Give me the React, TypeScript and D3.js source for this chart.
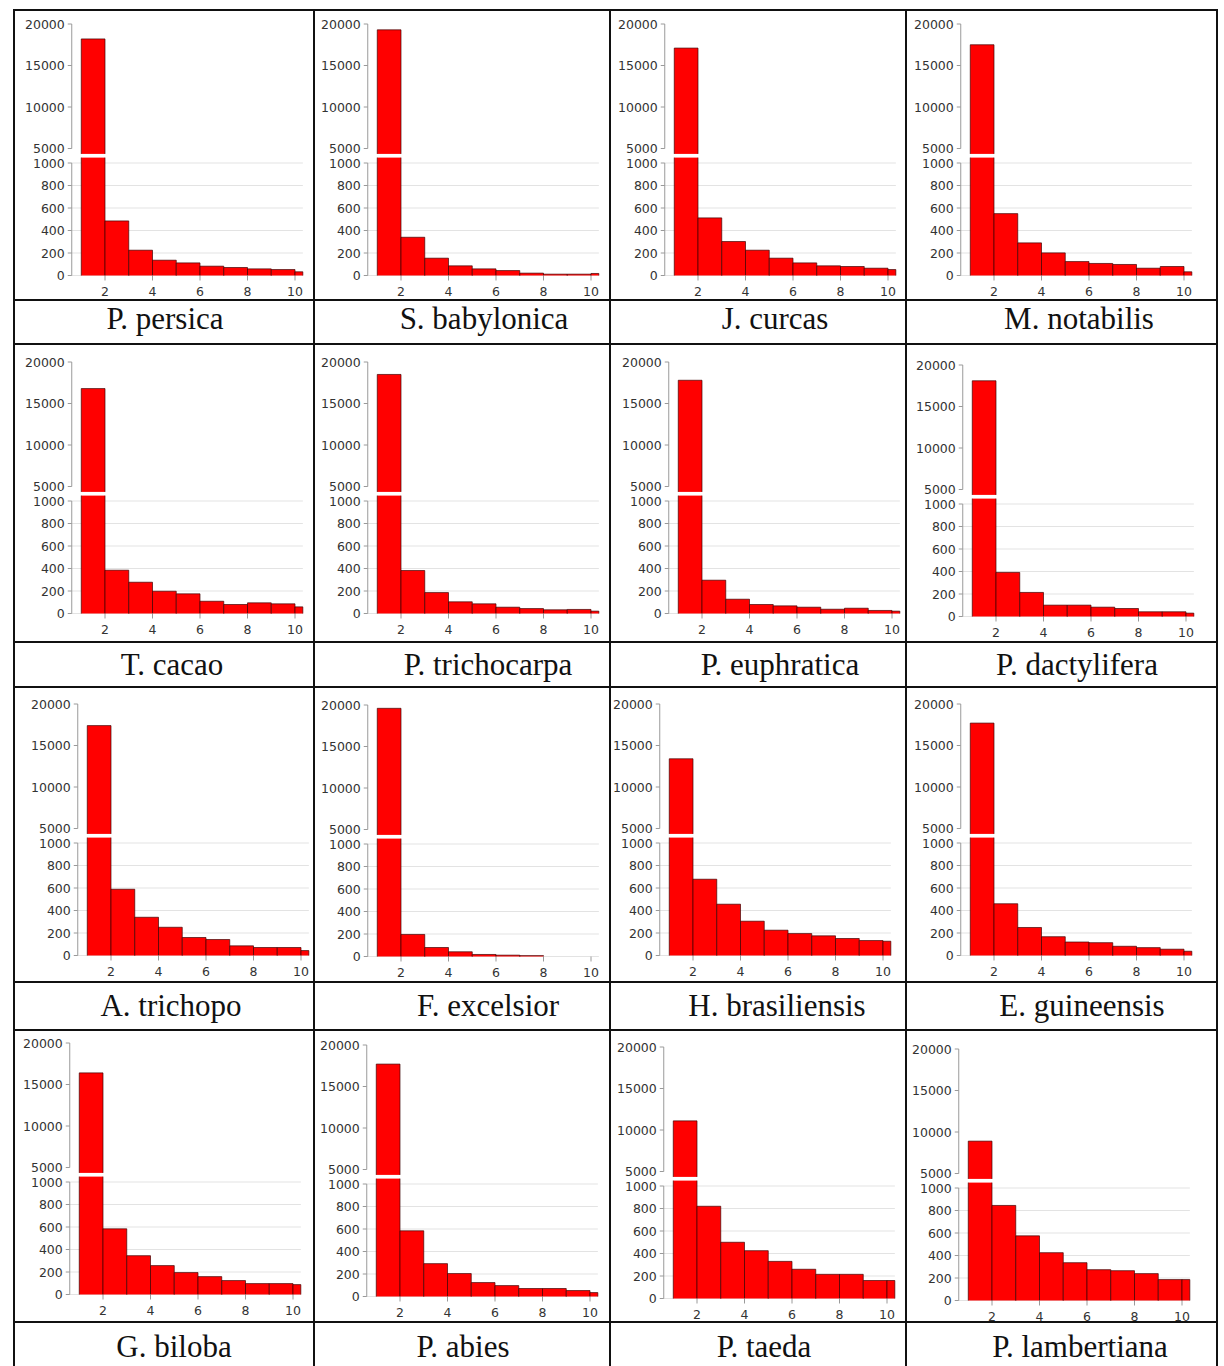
import React from "react";
import * as d3 from "d3";

// Species shown in the 4 x 4 table, row by row
const speciesNames = [
  "P. persica", "S. babylonica", "J. curcas", "M. notabilis",
  "T. cacao", "P. trichocarpa", "P. euphratica", "P. dactylifera",
  "A. trichopo", "F. excelsior", "H. brasiliensis", "E. guineensis",
  "G. biloba", "P. abies", "P. taeda", "P. lambertiana",
];

// Counts per unit bin: [1,2), [2,3), ... [10,11)
const persica = [18200, 485, 225, 136, 112, 83, 71, 59, 53, 33];
const babylonica = [19300, 340, 154, 86, 59, 44, 21, 12, 12, 18];
const curcas = [17100, 512, 302, 225, 154, 112, 86, 80, 65, 53];
const notabilis = [17500, 550, 290, 201, 124, 107, 98, 65, 80, 33];
const cacao = [16800, 385, 278, 198, 175, 109, 80, 95, 86, 59];
const trichocarpa = [18500, 382, 186, 104, 86, 56, 44, 33, 36, 21];
const euphratica = [17800, 296, 127, 80, 68, 56, 38, 47, 27, 21];
const dactylifera = [18100, 392, 214, 101, 101, 83, 71, 42, 42, 30];
const trichopo = [17400, 589, 340, 251, 160, 142, 86, 71, 71, 44];
const excelsior = [19600, 196, 80, 42, 18, 12, 8, 0, 0, 0];
const brasiliensis = [13400, 678, 456, 305, 225, 195, 175, 151, 133, 127];
const guineensis = [17700, 460, 249, 167, 120, 114, 82, 70, 56, 38];
const biloba = [16400, 584, 345, 257, 195, 159, 124, 97, 97, 88];
const abies = [17700, 584, 292, 204, 124, 97, 71, 71, 53, 35];
const taeda = [11100, 820, 500, 425, 330, 260, 215, 215, 160, 160];
const lambertiana = [8900, 845, 575, 425, 336, 274, 265, 239, 186, 186];

const seriesList = [
  persica, babylonica, curcas, notabilis,
  cacao, trichocarpa, euphratica, dactylifera,
  trichopo, excelsior, brasiliensis, guineensis,
  biloba, abies, taeda, lambertiana,
];

const binStarts = [1, 2, 3, 4, 5, 6, 7, 8, 9, 10];
const upperTicks = [5000, 10000, 15000, 20000];
const lowerTicks = [0, 200, 400, 600, 800, 1000];
const xTicks = [2, 4, 6, 8, 10];

// ---- layout of the table and of each small chart ----
const W = 1224;
const H = 1366;
const colEdges = [14, 314, 610, 906, 1217];
const rowTops = [10, 344, 687, 1030];
const dividerYs = [300, 642, 982, 1322];
const labelBaselines = [329, 675, 1016, 1357];
const labelCX = [165, 484, 775, 1079, 172, 488, 780, 1077, 171, 488, 777, 1082, 174, 463, 764, 1080];
// pixel position of the x = 2 tick and of the 20000 tick in each panel
const tick2X = [105, 401, 698, 994, 105, 401, 702, 996, 111, 401, 693, 994, 103, 400, 697, 992];
const top20kY = [24, 24, 24, 24, 362, 362, 362, 365, 704, 705, 704, 704, 1043, 1045, 1047, 1049];

const UNIT = 23.75; // px per bin along x
const X_MIN = 0.6;
const X_MAX = 10.33;
const UPPER_H = 124.5; // 5000 -> 20000
const GAP_H = 14.5; // 1000 -> 5000 break
const LOWER_H = 112.5; // 0 -> 1000
const HALF_BREAK = 5.4;

const AXIS = "#9a9a9a";
const TICK_TEXT = "#333";
const TICK_FONT = "'DejaVu Sans', Verdana, sans-serif";
const TICK_SIZE = 12.5;

function Panel({ counts, x2, y20 }: { counts: number[]; x2: number; y20: number }) {
  const x = d3.scaleLinear().domain([2, 10]).range([x2, x2 + 8 * UNIT]);
  const yU = d3.scaleLinear().domain([5000, 20000]).range([y20 + UPPER_H, y20]);
  const yL = d3
    .scaleLinear()
    .domain([0, 1000])
    .range([y20 + UPPER_H + GAP_H + LOWER_H, y20 + UPPER_H + GAP_H]);

  const upperFloor = yU.invert(yU(5000) + HALF_BREAK);
  const lowerCeil = yL.invert(yL(1000) - HALF_BREAK);
  const axisX = x(X_MIN);
  const endX = x(X_MAX);
  const base = yL(0);

  const bars = binStarts.map((b, i) => {
    const v = counts[i];
    const x0 = x(b);
    const x1 = x(Math.min(b + 1, X_MAX));
    return { v, x0, x1 };
  });

  const edge = { fill: "none", stroke: "#3a0000", strokeOpacity: 0.75, strokeWidth: 0.9 };

  return (
    <g>
      {/* light grid in the lower section */}
      {lowerTicks.map((t) => (
        <line key={"g" + t} x1={axisX} x2={endX} y1={yL(t)} y2={yL(t)} stroke="#e3e3e3" strokeWidth={1} />
      ))}

      {/* bars */}
      {bars.map((d, i) => {
        if (d.v <= 0) return null;
        const lowTop = yL(Math.min(d.v, lowerCeil));
        const w = d.x1 - d.x0;
        const parts = [
          <rect key="lf" x={d.x0} y={lowTop} width={w} height={base - lowTop} fill="#ff0000" />,
        ];
        if (d.v > lowerCeil && d.v >= 5000) {
          const uTop = yU(d.v);
          const uBot = yU(upperFloor);
          parts.push(<rect key="uf" x={d.x0} y={uTop} width={w} height={uBot - uTop} fill="#ff0000" />);
          parts.push(<path key="us" d={`M${d.x0},${uBot}V${uTop}H${d.x1}V${uBot}`} {...edge} />);
          parts.push(<path key="ls" d={`M${d.x0},${base}V${lowTop}M${d.x1},${lowTop}V${base}`} {...edge} />);
        } else {
          parts.push(<path key="ls" d={`M${d.x0},${base}V${lowTop}H${d.x1}V${base}`} {...edge} />);
        }
        return <g key={i}>{parts}</g>;
      })}

      {/* upper y axis (5000 - 20000) */}
      <line x1={axisX} x2={axisX} y1={yU(20000)} y2={yU(5000)} stroke={AXIS} strokeWidth={1} />
      {upperTicks.map((t) => (
        <g key={"u" + t}>
          <line x1={axisX - 4} x2={axisX} y1={yU(t)} y2={yU(t)} stroke={AXIS} strokeWidth={1} />
          <text
            x={axisX - 7}
            y={yU(t)}
            dy="0.36em"
            textAnchor="end"
            fontFamily={TICK_FONT}
            fontSize={TICK_SIZE}
            fill={TICK_TEXT}
          >
            {t}
          </text>
        </g>
      ))}

      {/* lower y axis (0 - 1000) */}
      <line x1={axisX} x2={axisX} y1={yL(1000)} y2={yL(0)} stroke={AXIS} strokeWidth={1} />
      {lowerTicks.map((t) => (
        <g key={"l" + t}>
          <line x1={axisX - 4} x2={axisX} y1={yL(t)} y2={yL(t)} stroke={AXIS} strokeWidth={1} />
          <text
            x={axisX - 7}
            y={yL(t)}
            dy="0.36em"
            textAnchor="end"
            fontFamily={TICK_FONT}
            fontSize={TICK_SIZE}
            fill={TICK_TEXT}
          >
            {t}
          </text>
        </g>
      ))}

      {/* x ticks */}
      {xTicks.map((t) => (
        <g key={"x" + t}>
          <line x1={x(t)} x2={x(t)} y1={base} y2={base + 5} stroke={AXIS} strokeWidth={1} />
          <text
            x={x(t)}
            y={base + 16}
            dy="0.36em"
            textAnchor="middle"
            fontFamily={TICK_FONT}
            fontSize={TICK_SIZE}
            fill={TICK_TEXT}
          >
            {t}
          </text>
        </g>
      ))}
    </g>
  );
}

export default function App() {
  const border = "#111";
  return (
    <svg
      width={W}
      height={H}
      viewBox={`0 0 ${W} ${H}`}
      style={{ position: "absolute", left: 0, top: 0, background: "#fff" }}
    >
      <rect x={0} y={0} width={W} height={H} fill="#fff" />

      {seriesList.map((counts, i) => (
        <Panel key={i} counts={counts} x2={tick2X[i]} y20={top20kY[i]} />
      ))}

      {/* species names */}
      {speciesNames.map((name, i) => (
        <text
          key={name}
          x={labelCX[i]}
          y={labelBaselines[Math.floor(i / 4)]}
          textAnchor="middle"
          fontFamily="'Liberation Serif', 'Times New Roman', serif"
          fontSize={31}
          fill="#111"
        >
          {name}
        </text>
      ))}

      {/* table rules */}
      <g stroke={border} strokeWidth={2} fill="none">
        {rowTops.map((y, r) => (
          <line key={"rt" + r} x1={colEdges[0] - 1} x2={colEdges[4] + 1} y1={y} y2={y} />
        ))}
        {dividerYs.map((y, r) => (
          <line key={"dv" + r} x1={colEdges[0] - 1} x2={colEdges[4] + 1} y1={y} y2={y} />
        ))}
        {colEdges.map((x, c) => (
          <line key={"c" + c} x1={x} x2={x} y1={rowTops[0] - 1} y2={H} />
        ))}
      </g>
    </svg>
  );
}
